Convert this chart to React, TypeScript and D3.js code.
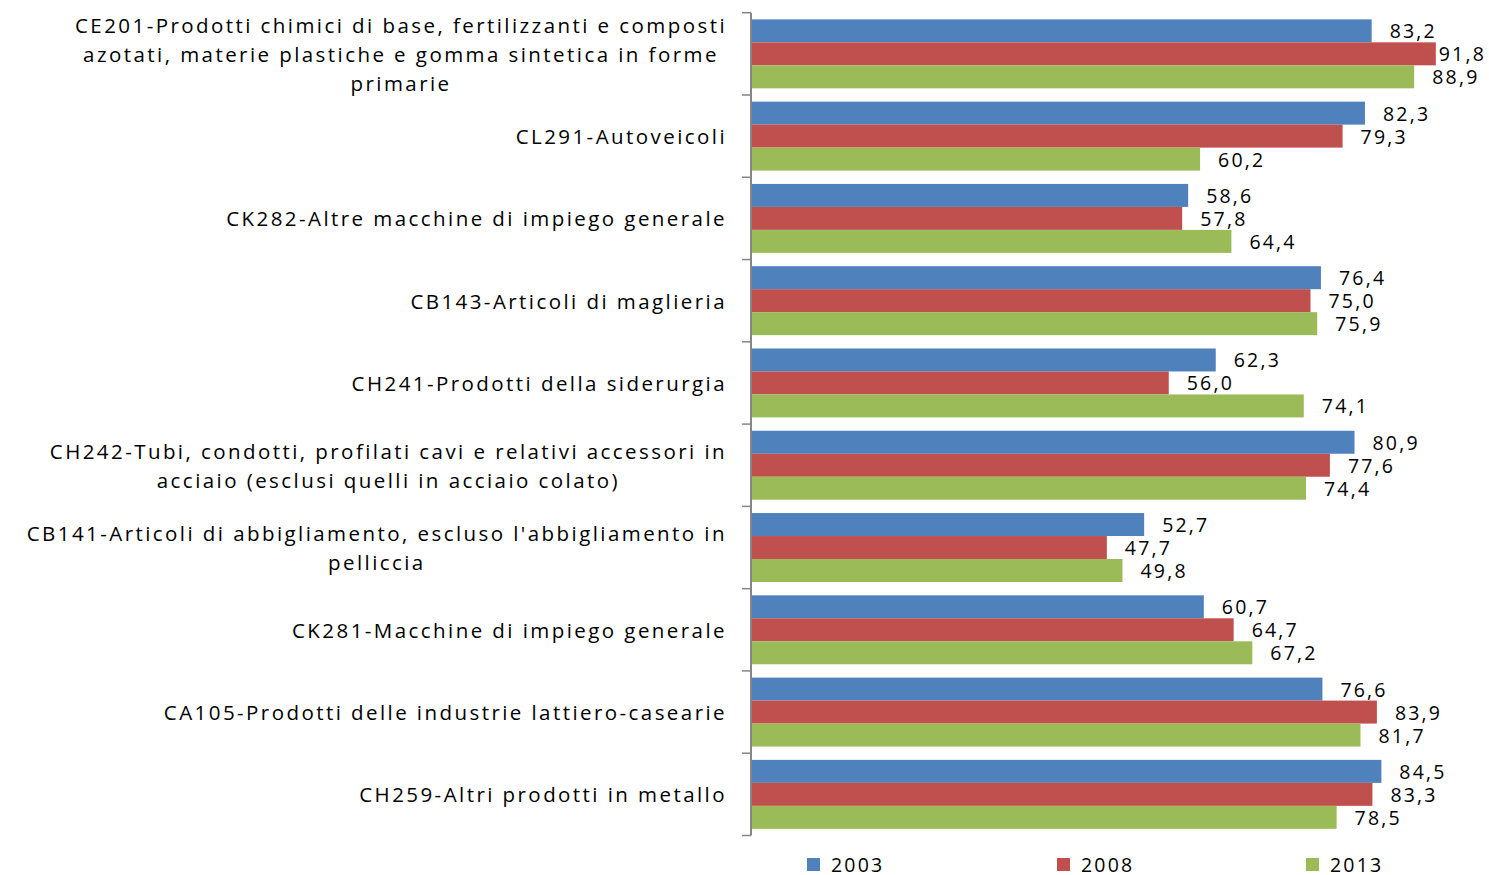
import React, { useEffect, useRef } from "react";
import * as d3 from "d3";

const categories: string[] = [
  "CE201-Prodotti chimici di base, fertilizzanti e composti\nazotati, materie plastiche e gomma sintetica in forme\nprimarie",
  "CL291-Autoveicoli",
  "CK282-Altre macchine di impiego generale",
  "CB143-Articoli di maglieria",
  "CH241-Prodotti della siderurgia",
  "CH242-Tubi, condotti, profilati cavi e relativi accessori in\nacciaio (esclusi quelli in acciaio colato)",
  "CB141-Articoli di abbigliamento, escluso l'abbigliamento in\npelliccia",
  "CK281-Macchine di impiego generale",
  "CA105-Prodotti delle industrie lattiero-casearie",
  "CH259-Altri prodotti in metallo",
];

const seriesNames: string[] = ["2003", "2008", "2013"];
const values2003: number[] = [83.2, 82.3, 58.6, 76.4, 62.3, 80.9, 52.7, 60.7, 76.6, 84.5];
const values2008: number[] = [91.8, 79.3, 57.8, 75.0, 56.0, 77.6, 47.7, 64.7, 83.9, 83.3];
const values2013: number[] = [88.9, 60.2, 64.4, 75.9, 74.1, 74.4, 49.8, 67.2, 81.7, 78.5];
const colors: string[] = ["#4F81BD", "#C0504D", "#9BBB59"];

const W = 1489;
const H = 875;
const FONT = "'Open Sans', 'Liberation Sans', sans-serif";

export default function App() {
  const ref = useRef<SVGSVGElement | null>(null);

  useEffect(() => {
    const svg = d3.select(ref.current);
    svg.selectAll("*").remove();

    const allValues = [values2003, values2008, values2013];
    const x = d3.scaleLinear().domain([0, 100]).range([751, 1497]);
    const y = d3.scaleBand<number>().domain(d3.range(categories.length)).range([12.7, 835.5]).paddingInner(0).paddingOuter(0);
    const ySub = d3.scaleBand<number>().domain([0, 1, 2]).range([0, y.bandwidth()]).paddingInner(0).paddingOuter(0.29);

    // bars
    categories.forEach((_, i) => {
      allValues.forEach((vals, s) => {
        svg.append("rect")
          .attr("x", x(0))
          .attr("y", (y(i) as number) + (ySub(s) as number))
          .attr("width", x(vals[i]) - x(0))
          .attr("height", ySub.bandwidth())
          .attr("fill", colors[s]);
      });
    });

    // axis line and ticks
    svg.append("line")
      .attr("x1", 751).attr("x2", 751)
      .attr("y1", y.range()[0]).attr("y2", y.range()[1])
      .attr("stroke", "#868686").attr("stroke-width", 2);
    const bounds = d3.range(categories.length + 1).map((k) => y.range()[0] + k * y.step());
    bounds.forEach((b) => {
      svg.append("line")
        .attr("x1", 742).attr("x2", 751)
        .attr("y1", b).attr("y2", b)
        .attr("stroke", "#868686").attr("stroke-width", 1.5);
    });

    // value labels
    categories.forEach((_, i) => {
      allValues.forEach((vals, s) => {
        const t = svg.append("text")
          .attr("y", (y(i) as number) + (ySub(s) as number) + ySub.bandwidth() / 2)
          .attr("dominant-baseline", "central")
          .attr("font-family", FONT)
          .attr("font-size", 19.5)
          .attr("letter-spacing", 2.2)
          .attr("fill", "#000")
          .text(d3.format(".1f")(vals[i]).replace(".", ","));
        const node = t.node() as SVGTextElement;
        const w = node.getComputedTextLength();
        let px = x(vals[i]) + 18;
        if (px + w > 1486) px = 1486 - w;
        t.attr("x", px);
      });
    });

    // category labels
    const CAT_FS = 20.5;
    const probe = svg.append("text")
      .attr("font-family", FONT).attr("font-size", CAT_FS)
      .text(categories[0].split("\n")[0]);
    const pw = (probe.node() as SVGTextElement).getComputedTextLength();
    const nChars = categories[0].split("\n")[0].length;
    probe.remove();
    const ls = (652 - pw) / nChars;

    const lineH = 29;
    categories.forEach((c, i) => {
      const lines = c.split("\n");
      const g = svg.append("g");
      const texts = lines.map((ln, k) =>
        g.append("text")
          .attr("font-family", FONT)
          .attr("font-size", CAT_FS)
          .attr("letter-spacing", ls)
          .attr("fill", "#000")
          .attr("dominant-baseline", "central")
          .attr("text-anchor", "middle")
          .attr("y", (y(i) as number) + y.bandwidth() / 2 + (k - (lines.length - 1) / 2) * lineH)
          .text(ln)
      );
      const maxW = d3.max(texts, (t) => (t.node() as SVGTextElement).getComputedTextLength()) as number;
      const cx = 727 - maxW / 2;
      texts.forEach((t) => t.attr("x", cx));
    });

    // legend
    const legendX = [807, 1057, 1306];
    seriesNames.forEach((nm, s) => {
      svg.append("rect")
        .attr("x", legendX[s]).attr("y", 858)
        .attr("width", 13).attr("height", 13)
        .attr("fill", colors[s]);
      svg.append("text")
        .attr("x", legendX[s] + 24).attr("y", 864)
        .attr("dominant-baseline", "central")
        .attr("font-family", FONT).attr("font-size", 19.5)
        .attr("letter-spacing", 2.2)
        .attr("fill", "#000")
        .text(nm);
    });
  }, []);

  return (
    <svg
      ref={ref}
      width={W}
      height={H}
      style={{ position: "absolute", left: 0, top: 0, background: "#fff" }}
    />
  );
}
